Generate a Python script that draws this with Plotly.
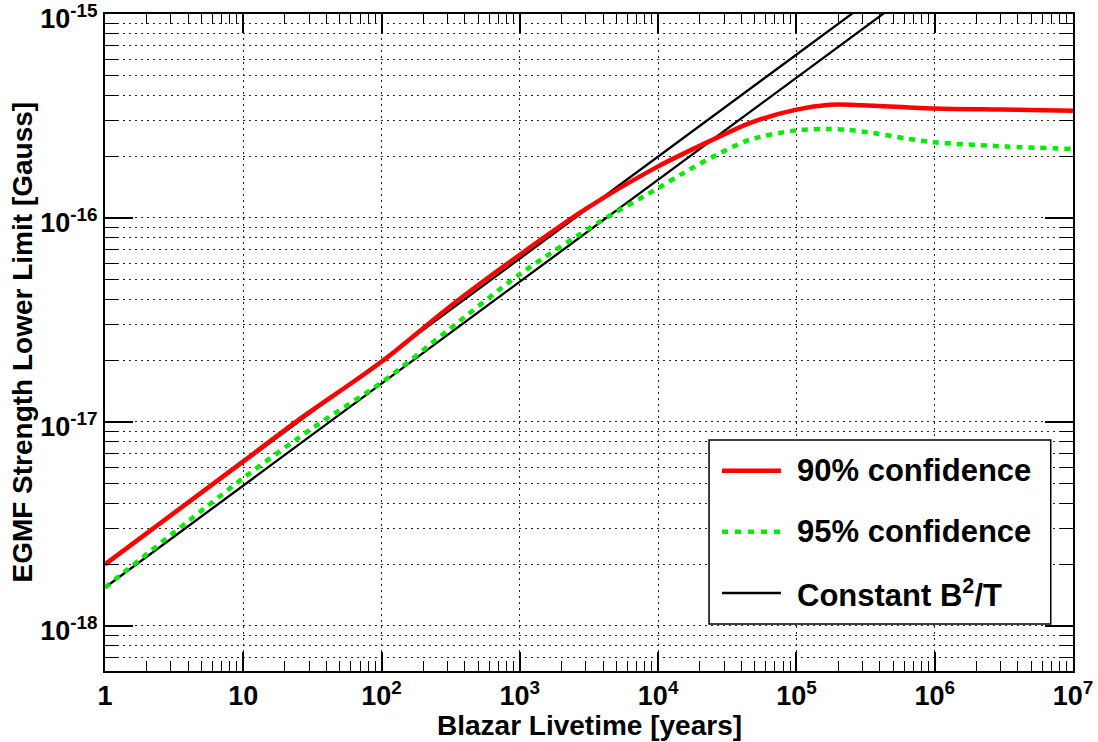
import plotly.graph_objects as go

# Blazar livetime (years)
livetime_90 = [1, 10, 25, 100, 300, 1000, 3000, 1e4, 2.65e4, 4.6e4, 1e5, 1.75e5, 3e5, 1e6, 3e6, 1e7]
# EGMF lower limit, 90% confidence (Gauss)
egmf_90 = [2.0e-18, 6.4e-18, 1.02e-17, 1.97e-17, 3.6e-17, 6.6e-17, 1.107e-16, 1.79e-16,
           2.47e-16, 2.92e-16, 3.40e-16, 3.59e-16, 3.57e-16, 3.44e-16, 3.40e-16, 3.36e-16]

livetime_95 = [1, 10, 33, 100, 300, 1000, 3800, 1e4, 1.52e4, 2.65e4, 4.6e4, 1e5, 1.75e5, 2.4e5,
               3.6e5, 6.3e5, 1e6, 3.3e6, 1e7]
# EGMF lower limit, 95% confidence (Gauss)
egmf_95 = [1.54e-18, 5.3e-18, 9.5e-18, 1.56e-17, 2.8e-17, 5.3e-17, 9.6e-17, 1.40e-16, 1.66e-16,
           2.04e-16, 2.42e-16, 2.69e-16, 2.73e-16, 2.70e-16, 2.61e-16, 2.45e-16, 2.35e-16,
           2.24e-16, 2.18e-16]

# Constant B^2/T reference lines anchored at T = 1 yr
const_T = [1, 1e7]
const_hi = [2.0e-18, 6.32e-15]
const_lo = [1.54e-18, 4.87e-15]

x_major = [1, 10, 1e2, 1e3, 1e4, 1e5, 1e6, 1e7]
x_labels = ["1", "10", "10<sup>2</sup>", "10<sup>3</sup>", "10<sup>4</sup>",
            "10<sup>5</sup>", "10<sup>6</sup>", "10<sup>7</sup>"]
y_major = [1e-18, 1e-17, 1e-16, 1e-15]
y_labels = ["10<sup>-18</sup>", "10<sup>-17</sup>", "10<sup>-16</sup>", "10<sup>-15</sup>"]

x_title = "Blazar Livetime [years]"
y_title = "EGMF Strength Lower Limit [Gauss]"
legend_labels = ["90% confidence", "95% confidence", "Constant B<sup>2</sup>/T"]

FONT = "Liberation Sans, Arial, sans-serif"

x_minor = [m * 10 ** d for d in range(0, 7) for m in range(2, 10)]
y_minor = [m * 10.0 ** d for d in range(-19, -15) for m in range(2, 10)]
y_minor = [v for v in y_minor if 5.9e-19 < v < 1e-15]

fig = go.Figure()
fig.add_trace(go.Scatter(x=const_T, y=const_hi, mode="lines",
                         line=dict(color="black", width=2.3), showlegend=False))
fig.add_trace(go.Scatter(x=const_T, y=const_lo, mode="lines",
                         line=dict(color="black", width=2.3), showlegend=False))
fig.add_trace(go.Scatter(x=livetime_95, y=egmf_95, mode="lines",
                         line=dict(color="#00ee00", width=4.5, dash="6px,6px",
                                   shape="spline", smoothing=0.8),
                         showlegend=False))
fig.add_trace(go.Scatter(x=livetime_90, y=egmf_90, mode="lines",
                         line=dict(color="#ff0000", width=4.5, shape="spline", smoothing=0.8),
                         showlegend=False))

# Legend box drawn in paper coordinates
fig.add_shape(type="rect", xref="paper", yref="paper", x0=0.624, x1=0.977, y0=0.0715, y1=0.3516,
              line=dict(color="black", width=1.5), fillcolor="white", layer="above")
rows_y = [0.3049, 0.2120, 0.1187]
sample_styles = [dict(color="#ff0000", width=4.5),
                 dict(color="#00ee00", width=4.5, dash="6px,7px"),
                 dict(color="black", width=2.3)]
for yy, st, lab in zip(rows_y, sample_styles, legend_labels):
    fig.add_shape(type="line", xref="paper", yref="paper", x0=0.6374, x1=0.6983, y0=yy, y1=yy,
                  line=st, layer="above")
    fig.add_annotation(xref="paper", yref="paper", x=0.7128, y=yy, text=lab, showarrow=False,
                       xanchor="left", yanchor="middle",
                       font=dict(family=FONT, size=31, color="black", weight="bold"))

# Axis titles
title_font = dict(family=FONT, size=28, color="black", weight="bold")
fig.add_annotation(xref="paper", yref="paper", x=0.5, y=-0.0822, text=x_title,
                   showarrow=False, xanchor="center", yanchor="middle", font=title_font)
fig.add_annotation(xref="paper", yref="paper", x=-0.0857, y=0.5, text=y_title, textangle=-90,
                   showarrow=False, xanchor="center", yanchor="middle", font=title_font)

fig.update_xaxes(
    type="log", range=[0, 7.0002], automargin=False, ticklabeloverflow="allow",
    tickmode="array", tickvals=x_major, ticktext=x_labels,
    ticks="inside", ticklen=19, tickwidth=1.5, tickcolor="black",
    tickfont=dict(family=FONT, size=27, color="black", weight="bold"),
    showline=True, linecolor="black", linewidth=2, mirror="allticks",
    showgrid=True, gridcolor="#222", gridwidth=1, griddash="2px,4px",
    minor=dict(tickvals=x_minor, ticks="inside", ticklen=10, tickwidth=1, tickcolor="black",
               showgrid=False),
)
fig.update_yaxes(
    type="log", range=[-18.2218, -14.9998], automargin=False, ticklabeloverflow="allow",
    tickmode="array", tickvals=y_major, ticktext=y_labels, ticklabelshift=5,
    ticks="inside", ticklen=28, tickwidth=1.5, tickcolor="black",
    tickfont=dict(family=FONT, size=27, color="black", weight="bold"),
    showline=True, linecolor="black", linewidth=2, mirror="allticks",
    showgrid=True, gridcolor="#222", gridwidth=1, griddash="2px,4px",
    minor=dict(tickvals=y_minor, ticks="inside", ticklen=13, tickwidth=1, tickcolor="black",
               showgrid=True, gridcolor="#222", gridwidth=1, griddash="2px,4px"),
)

fig.update_layout(
    width=1098, height=742,
    margin=dict(l=105, r=25, t=14, b=71, autoexpand=False),
    paper_bgcolor="white", plot_bgcolor="white",
    showlegend=False,
)

fig.write_html("out.html")
